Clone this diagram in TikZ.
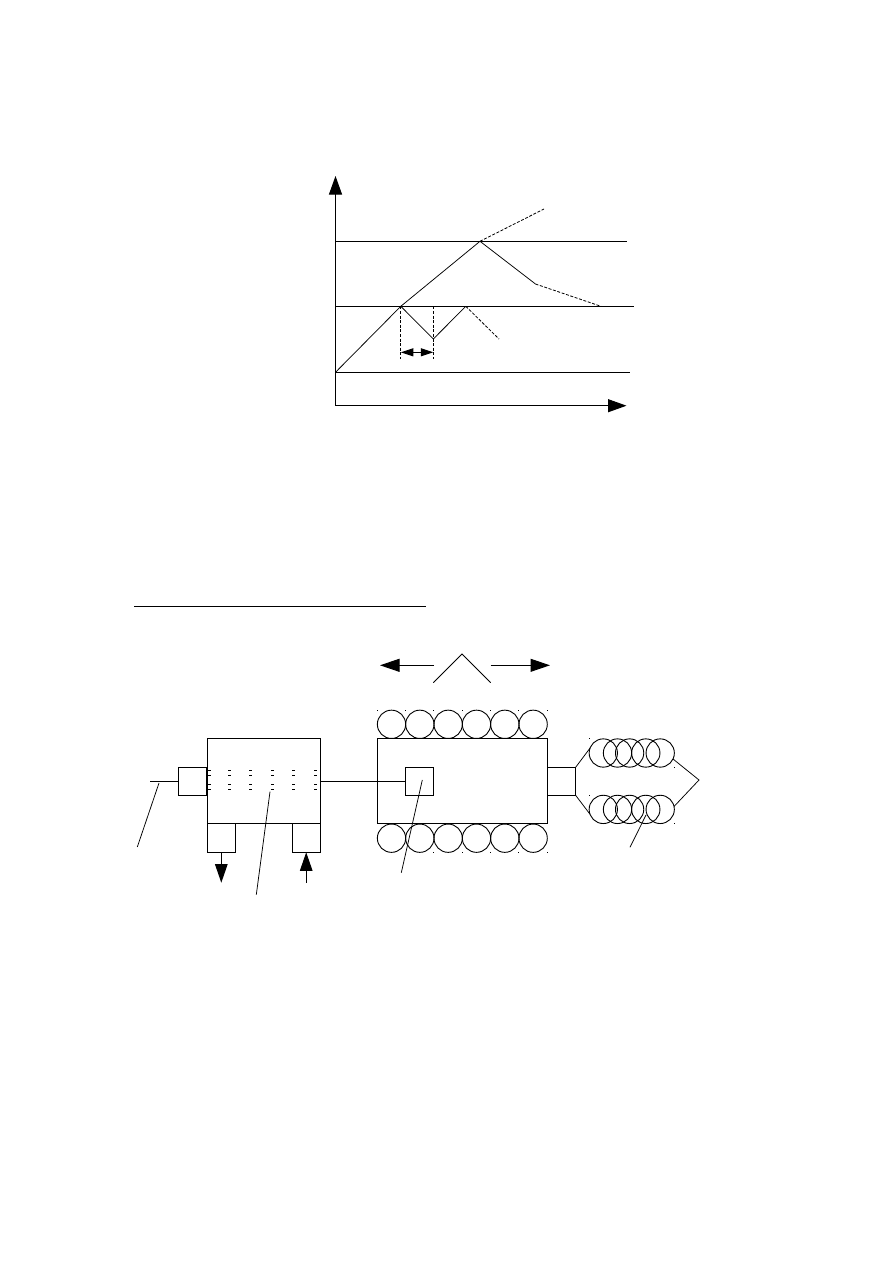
\documentclass[tikz,border=0pt]{standalone}
\usetikzlibrary{arrows.meta}
\tikzset{
  every picture/.style={x=1pt,y=-1pt},
  rule line/.style={line width=1pt,black},
  hair line/.style={line width=0.75pt,black},
  dash line/.style={line width=0.8pt,black,dash pattern=on 3pt off 1.6pt},
  box/.style={draw=black,line width=1pt,rectangle,inner sep=0pt,outer sep=0pt},
  unit box/.style={box,minimum width=28.3pt,minimum height=28pt},
  roll/.style={draw=black,line width=0.9pt,circle,inner sep=0pt,outer sep=0pt,minimum size=28.3pt},
  big head/.style={-{Triangle[length=18.5pt,width=13pt]}},
  both heads/.style={{Triangle[length=12.5pt,width=8pt]}-{Triangle[length=12.5pt,width=8pt]}},
}
\newcommand{\speck}[2]{\fill[black] (#1-0.5,#2-0.5) rectangle (#1+0.5,#2+0.5);}
\begin{document}
\begin{tikzpicture}
\useasboundingbox (0,0) rectangle (893,1263);
\fill[white] (0,0) rectangle (893,1263);

% ---- characteristic chart ----
\coordinate (origin) at (335.5,405.7);
\coordinate (ytip) at (335.5,176);
\coordinate (xtip) at (626.5,405.7);
\coordinate (hiL) at (335.5,241.3);  \coordinate (hiR) at (627,241.3);
\coordinate (midL) at (335.5,306.3); \coordinate (midR) at (634,306.3);
\coordinate (loL) at (335.5,372.3);  \coordinate (loR) at (630,372.3);
\coordinate (p0) at (335.5,372.3);
\coordinate (p1) at (400.8,306.3);
\coordinate (p2) at (433.3,339);
\coordinate (p3) at (465.8,306.3);
\coordinate (p4) at (499,339);
\coordinate (p5) at (480,241.3);
\coordinate (p6) at (544,209);
\coordinate (p7) at (535.5,284);
\coordinate (p8) at (601,306.3);
\coordinate (v1) at (400.8,359);
\coordinate (v2) at (433.3,359);
\coordinate (s1) at (400.8,352.3);
\coordinate (s2) at (433.3,352.3);

\draw[rule line,big head] (origin) -- (ytip);
\draw[rule line,big head] (origin) -- (xtip);
\draw[rule line] (hiL) -- (hiR);
\draw[rule line] (midL) -- (midR);
\draw[rule line] (loL) -- (loR);
\draw[hair line] (p0) -- (p1) -- (p2) -- (p3);
\draw[hair line] (p1) -- (p5) -- (p7);
\draw[dash line] (p3) -- (p4);
\draw[dash line] (p5) -- (p6);
\draw[dash line] (p7) -- (p8);
\draw[dash line] (p1) -- (v1);
\draw[dash line] (p2 |- midL) -- (v2);
\draw[rule line,both heads] (s1) -- (s2);

% ---- heading rule ----
\coordinate (ruleL) at (134,606.3);
\coordinate (ruleR) at (425.8,606.3);
\draw[rule line] (ruleL) -- (ruleR);

% ---- direction marks above the drum ----
\coordinate (peakL) at (433.3,682.7);
\coordinate (peak) at (462,654);
\coordinate (peakR) at (490.7,682.7);
\coordinate (leftFrom) at (434,665.3);
\coordinate (leftTip) at (380,665.3);
\coordinate (rightFrom) at (490.7,665.3);
\coordinate (rightTip) at (550,665.3);
\draw[hair line] (peakL) -- (peak) -- (peakR);
\draw[rule line,-{Triangle[length=19.5pt,width=13pt]}] (leftFrom) -- (leftTip);
\draw[rule line,-{Triangle[length=19.5pt,width=13pt]}] (rightFrom) -- (rightTip);

% ---- left chamber ----
\node[box,minimum width=113pt,minimum height=85pt] (chamber) at (263.8,780.8) {};
\node[unit box] (inlet) at (192.7,781.3) {};
\node[unit box,minimum height=29pt] (outA) at (221.3,837.8) {};
\node[unit box,minimum height=29pt] (outB) at (306.2,837.8) {};
\coordinate (feed) at (150,781.3);
\draw[rule line] (feed) -- (inlet.west);

\foreach \cx in {207.5,228,249,271,292,314}
  \foreach \cy in {770,775,784.3,789.3}
    \fill[black] (\cx,\cy-0.5) rectangle (\cx+3,\cy+0.5);

\coordinate (downTip) at (221.3,882.7);
\coordinate (upFrom) at (306.2,882.7);
\draw[rule line,-{Triangle[length=18.5pt,width=12.5pt]}] (outA.south) -- (downTip);
\draw[rule line,-{Triangle[length=18.5pt,width=12.5pt]}] (upFrom) -- (outB.south);

% ---- drum with its rollers ----
\node[box,minimum width=170pt,minimum height=85pt] (drum) at (462.3,780.8) {};
\node[unit box] (core) at (419.5,781.3) {};
\node[unit box] (stub) at (561.5,781.3) {};
\draw[rule line] (chamber.east |- feed) -- (core.west);
\foreach \i in {0,1,2,3,4,5} {
  \pgfmathsetmacro{\rx}{391.5+28.33*\i}
  \node[roll] (top\i) at (\rx,724.3) {};
  \node[roll] (bot\i) at (\rx,838.2) {};
}
\foreach \i in {0,...,6} {
  \pgfmathsetmacro{\rx}{377.3+28.33*\i}
  \speck{\rx}{710}
}
\foreach \i in {2,...,6} {
  \pgfmathsetmacro{\rx}{377.3+28.33*\i}
  \speck{\rx}{852.4}
}

% ---- coil pairs behind the stub ----
\foreach \rx [count=\i] in {603.3,617.5,629.6,645.8,660.2} {
  \node[roll] (up\i) at (\rx,753) {};
  \node[roll] (dn\i) at (\rx,809.4) {};
}
\speck{589.2}{738.8}
\speck{674.4}{767}
\speck{589.2}{795.2}
\speck{674.4}{823.6}
\coordinate (join) at (699,780);
\draw[hair line] (stub.north east) -- (up1.160);
\draw[hair line] (stub.south east) -- (dn1.200);
\draw[hair line] (up5.-25) -- (join) -- (dn5.12);

% ---- leader lines ----
\coordinate (la1) at (159,783);   \coordinate (la2) at (137.3,847);
\coordinate (lb1) at (270,791.7); \coordinate (lb2) at (256.3,894.7);
\coordinate (lc1) at (422.3,780); \coordinate (lc2) at (401.3,872.7);
\coordinate (ld1) at (646,815);   \coordinate (ld2) at (630,847.3);
\draw[hair line] (la1) -- (la2);
\draw[hair line] (lb1) -- (lb2);
\draw[hair line] (lc1) -- (lc2);
\draw[hair line] (ld1) -- (ld2);
\end{tikzpicture}
\end{document}
